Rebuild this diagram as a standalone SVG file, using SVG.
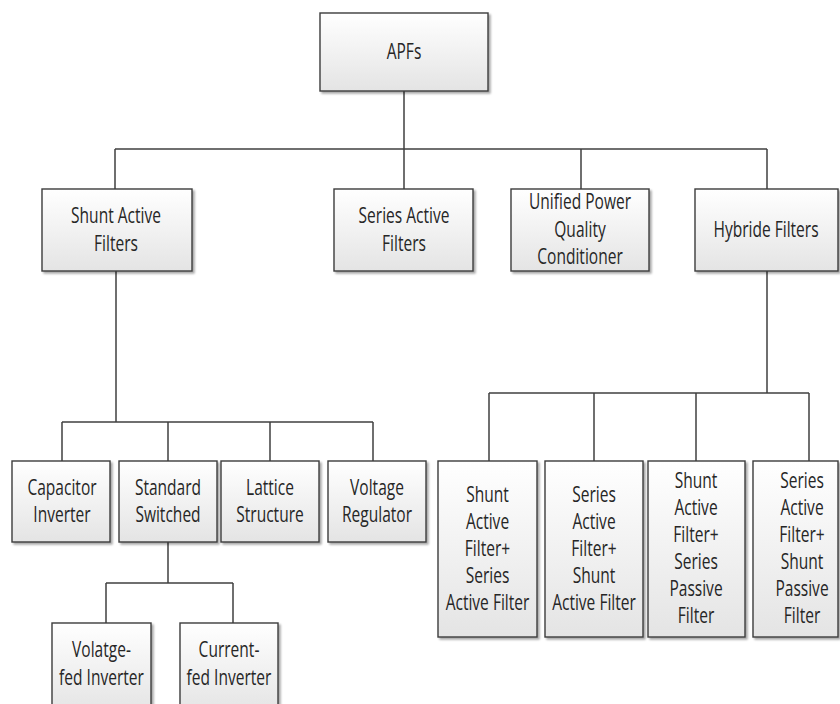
<svg xmlns="http://www.w3.org/2000/svg" width="840" height="704" viewBox="0 0 840 704">
<defs>
<linearGradient id="g" x1="0" y1="0" x2="0" y2="1">
<stop offset="0" stop-color="#ffffff"/>
<stop offset="1" stop-color="#e4e4e4"/>
</linearGradient>
<filter id="sh" x="-10%" y="-10%" width="130%" height="130%">
<feGaussianBlur in="SourceAlpha" stdDeviation="1"/>
<feOffset dx="2" dy="2" result="b"/>
<feComponentTransfer><feFuncA type="linear" slope="0.35"/></feComponentTransfer>
<feMerge><feMergeNode/><feMergeNode in="SourceGraphic"/></feMerge>
</filter>
</defs>
<style>
.box{fill:url(#g);stroke:#3c3c3c;stroke-width:1.4;filter:url(#sh)}
.t{font-family:"Open Sans","Noto Sans",sans-serif;font-size:21px;fill:#262626;text-anchor:middle}
.c{fill:none;stroke:#404040;stroke-width:1.5}
</style>
<rect width="840" height="704" fill="#ffffff"/>
<g id="connectors">
<path class="c" d="M404 91V149M115 149H767M115 149V189M404 149V189M581 149V189M767 149V189"/>
<path class="c" d="M116 271V422M62 422H373M62 422V461M168 422V461M270 422V461M373 422V461"/>
<path class="c" d="M168 542V583M106 583H233M106 583V623M233 583V623"/>
<path class="c" d="M767 271V393M489 393H809M489 393V461M594 393V461M696 393V461M809 393V461"/>
</g>
<g id="apfs"><rect class="box" x="320" y="13" width="168" height="78"/>
<text class="t" transform="translate(404,0) scale(0.74,1)"><tspan x="0" y="59">APFs</tspan></text></g>
<g id="shunt"><rect class="box" x="42" y="189" width="150" height="82"/>
<text class="t" transform="translate(116,0) scale(0.74,1)"><tspan x="0" y="223">Shunt Active</tspan><tspan x="0" y="251">Filters</tspan></text></g>
<g id="series"><rect class="box" x="334" y="189" width="139" height="82"/>
<text class="t" transform="translate(404,0) scale(0.74,1)"><tspan x="0" y="223">Series Active</tspan><tspan x="0" y="251">Filters</tspan></text></g>
<g id="upqc"><rect class="box" x="511" y="189" width="138" height="82"/>
<text class="t" transform="translate(580,0) scale(0.74,1)"><tspan x="0" y="209">Unified Power</tspan><tspan x="0" y="237">Quality</tspan><tspan x="0" y="264">Conditioner</tspan></text></g>
<g id="hybride"><rect class="box" x="695" y="189" width="143" height="82"/>
<text class="t" transform="translate(766,0) scale(0.74,1)"><tspan x="0" y="237">Hybride Filters</tspan></text></g>
<g id="capacitor"><rect class="box" x="12" y="461" width="98" height="81"/>
<text class="t" transform="translate(62,0) scale(0.74,1)"><tspan x="0" y="495">Capacitor</tspan><tspan x="0" y="522">Inverter</tspan></text></g>
<g id="standard"><rect class="box" x="119" y="461" width="98" height="81"/>
<text class="t" transform="translate(168,0) scale(0.74,1)"><tspan x="0" y="495">Standard</tspan><tspan x="0" y="522">Switched</tspan></text></g>
<g id="lattice"><rect class="box" x="221" y="461" width="98" height="81"/>
<text class="t" transform="translate(270,0) scale(0.74,1)"><tspan x="0" y="495">Lattice</tspan><tspan x="0" y="522">Structure</tspan></text></g>
<g id="voltage"><rect class="box" x="328" y="461" width="98" height="81"/>
<text class="t" transform="translate(377,0) scale(0.74,1)"><tspan x="0" y="495">Voltage</tspan><tspan x="0" y="522">Regulator</tspan></text></g>
<g id="vfi"><rect class="box" x="52" y="623" width="99" height="90"/>
<text class="t" transform="translate(101.5,0) scale(0.74,1)"><tspan x="0" y="657">Volatge-</tspan><tspan x="0" y="685">fed Inverter</tspan></text></g>
<g id="cfi"><rect class="box" x="180" y="623" width="98" height="90"/>
<text class="t" transform="translate(229,0) scale(0.74,1)"><tspan x="0" y="657">Current-</tspan><tspan x="0" y="685">fed Inverter</tspan></text></g>
<g id="h1"><rect class="box" x="438" y="461" width="99" height="176"/>
<text class="t" transform="translate(487.5,0) scale(0.74,1)"><tspan x="0" y="502">Shunt</tspan><tspan x="0" y="529">Active</tspan><tspan x="0" y="556">Filter+</tspan><tspan x="0" y="583">Series</tspan><tspan x="0" y="610">Active Filter</tspan></text></g>
<g id="h2"><rect class="box" x="545" y="461" width="98" height="176"/>
<text class="t" transform="translate(594,0) scale(0.74,1)"><tspan x="0" y="502">Series</tspan><tspan x="0" y="529">Active</tspan><tspan x="0" y="556">Filter+</tspan><tspan x="0" y="583">Shunt</tspan><tspan x="0" y="610">Active Filter</tspan></text></g>
<g id="h3"><rect class="box" x="648" y="461" width="97" height="176"/>
<text class="t" transform="translate(696,0) scale(0.74,1)"><tspan x="0" y="488">Shunt</tspan><tspan x="0" y="515">Active</tspan><tspan x="0" y="542">Filter+</tspan><tspan x="0" y="569">Series</tspan><tspan x="0" y="596">Passive</tspan><tspan x="0" y="623">Filter</tspan></text></g>
<g id="h4"><rect class="box" x="753" y="461" width="85" height="176"/>
<text class="t" transform="translate(802,0) scale(0.74,1)"><tspan x="0" y="488">Series</tspan><tspan x="0" y="515">Active</tspan><tspan x="0" y="542">Filter+</tspan><tspan x="0" y="569">Shunt</tspan><tspan x="0" y="596">Passive</tspan><tspan x="0" y="623">Filter</tspan></text></g>
</svg>
